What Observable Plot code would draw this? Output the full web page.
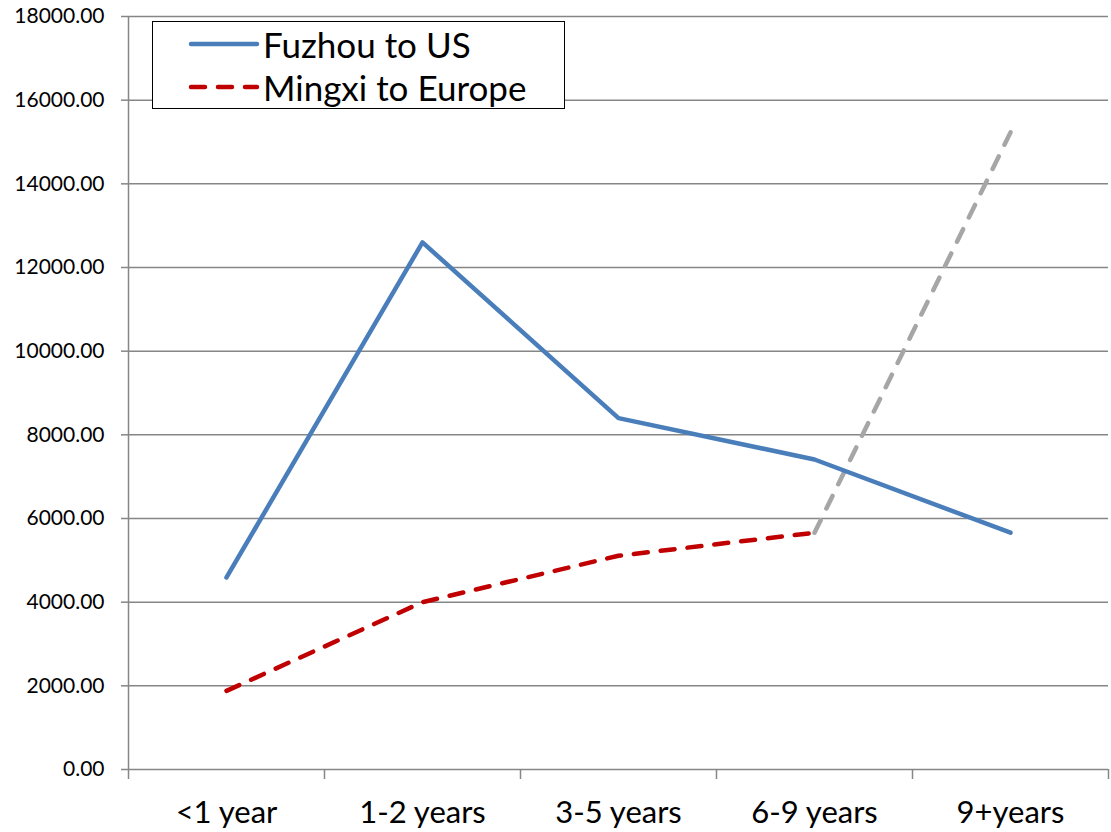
<!DOCTYPE html>
<html>
<head>
<meta charset="utf-8">
<script src="https://cdn.jsdelivr.net/npm/d3@7"></script>
<script src="https://cdn.jsdelivr.net/npm/@observablehq/plot@0.6"></script>
<style>
  html, body { margin: 0; padding: 0; background: #fff; }
  #wrap { position: relative; width: 1111px; height: 832px; font-family: Lato, "Open Sans", sans-serif; }
  #legend { position: absolute; left: 152px; top: 21px; width: 411px; height: 86px; border: 1px solid #000; background: #fff; }
  .lrow { position: absolute; left: 0; height: 36px; line-height: 36px; display: flex; align-items: center; font-size: 35px; color: #000; white-space: nowrap; }
</style>
</head>
<body>
<div id="wrap"><div id="chart"></div><div id="legend"></div></div>
<script>
const categories = ["<1 year", "1-2 years", "3-5 years", "6-9 years", "9+years"];
const fuzhou = [4590, 12600, 8400, 7410, 5660];
const mingxi = [1880, 4000, 5110, 5660, null];
const mingxiExt = [null, null, null, 5660, 15230];
const yTicks = [0, 2000, 4000, 6000, 8000, 10000, 12000, 14000, 16000, 18000];

const W = 1111, H = 832, mL = 128, mR = 3, mT = 16, mB = 63;
const band = (W - mL - mR) / categories.length;

const rows = categories.map((c, i) => ({c, f: fuzhou[i], m: mingxi[i], e: mingxiExt[i]}));
const grid = "#868686";
const dash = "14,13";

const plot = Plot.plot({
  width: W, height: H,
  marginLeft: mL, marginRight: mR, marginTop: mT, marginBottom: mB,
  style: {fontFamily: "Lato, 'Open Sans', sans-serif", color: "#000", background: "#fff", overflow: "visible"},
  x: {type: "band", domain: categories, padding: 0, label: null},
  y: {domain: [0, 18000], label: null},
  marks: [
    Plot.ruleY(yTicks, {stroke: grid, strokeWidth: 1.5}),
    Plot.ruleX([0], {x: () => categories[0], dx: -band / 2, y1: 0, y2: 18000, stroke: grid, strokeWidth: 1.5}),
    Plot.axisY({ticks: yTicks, tickSize: 7, tickPadding: 17, stroke: grid, strokeWidth: 1.5, tickFormat: d => d.toFixed(2), fontSize: 21, label: null, fill: "#000"}),
    Plot.axisX({ticks: categories, tickSize: 10, dx: -band / 2, stroke: grid, strokeWidth: 1.5, tickFormat: () => "", label: null}),
    Plot.axisX({ticks: categories.slice(-1), tickSize: 10, dx: band / 2, stroke: grid, strokeWidth: 1.5, tickFormat: () => "", label: null}),
    Plot.axisX({ticks: categories, tickSize: 0, tickPadding: 31, fontSize: 31, label: null, fill: "#000"}),
    Plot.line(rows, {x: "c", y: "e", stroke: "#A6A6A6", strokeWidth: 4.5, strokeDasharray: dash, strokeLinecap: "round"}),
    Plot.line(rows, {x: "c", y: "m", stroke: "#C00000", strokeWidth: 4.5, strokeDasharray: dash, strokeLinecap: "round"}),
    Plot.line(rows, {x: "c", y: "f", stroke: "#4A7EBB", strokeWidth: 4.5, strokeLinecap: "round"})
  ]
});
document.getElementById("chart").appendChild(plot);

const legendItems = [
  {label: "Fuzhou to US", color: "#4A7EBB", dash: null},
  {label: "Mingxi to Europe", color: "#C00000", dash: dash}
];
const lg = document.getElementById("legend");
legendItems.forEach((it, i) => {
  const row = document.createElement("div");
  row.className = "lrow";
  row.style.top = (i === 0 ? 4 : 47) + "px";
  row.innerHTML = `<svg width="110" height="36" style="flex:none"><line x1="38" x2="104" y1="18" y2="18" stroke="${it.color}" stroke-width="4.5" stroke-linecap="round" ${it.dash ? `stroke-dasharray="${it.dash}"` : ""}/></svg><span>${it.label}</span>`;
  lg.appendChild(row);
});
</script>
</body>
</html>
